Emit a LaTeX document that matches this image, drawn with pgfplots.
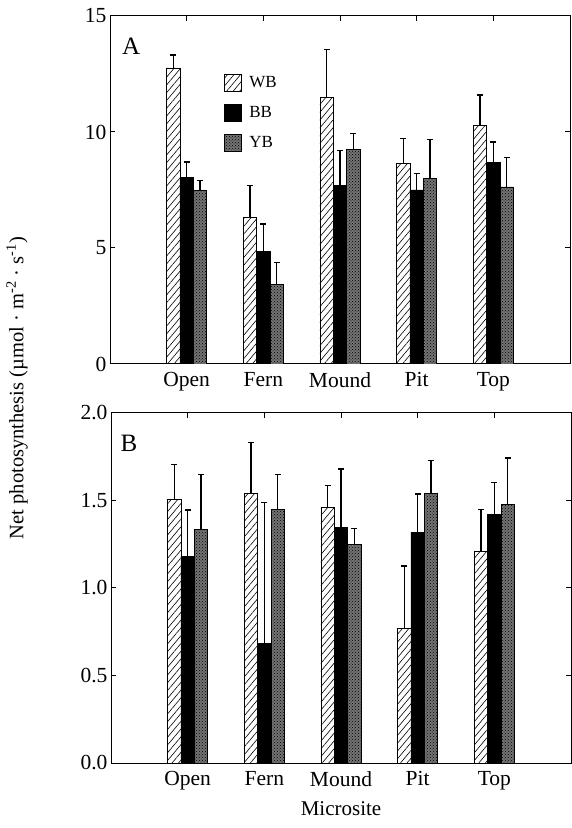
\documentclass[border=0pt]{standalone}
\usepackage{pgfplots}
\pgfplotsset{compat=1.18}
\usepackage{fontspec}
\setmainfont{Liberation Serif}
\usetikzlibrary{patterns,patterns.meta}

\pgfplotsset{
 mybase/.style={
  scale only axis, x=76.667pt,
  xmin=-1, xmax=5, xtick={0,1,2,3,4}, xticklabels={Open,Fern,Mound,Pit,Top},
  ybar, bar width=0.174,
  tick align=inside, tick pos=both, xticklabel pos=lower, yticklabel pos=left,
  major tick length=5pt, minor tick num=0,
  tick style={line width=1pt,black},
  axis line style={line width=1pt},
  ticklabel style={font=\fontsize{21.5}{25}\selectfont},
  xticklabel style={yshift=-5pt},
  /pgf/number format/assume math mode=true,
  error bars/y dir=plus, error bars/y explicit,
  error bars/error mark=-,
  error bars/error bar style={line width=1.1pt, black},
  error bars/error mark options={rotate=90, mark size=3pt, line width=1.4pt, black},
 },
 wb/.style={draw=black, line width=0.9pt, pattern={Lines[angle=50,distance=5pt,line width=0.6pt]}, bar shift=-0.174},
 bb/.style={draw=black, line width=0.9pt, fill=black, bar shift=0},
 yb/.style={draw=black, line width=0.9pt, preaction={fill=black!55}, pattern=crosshatch dots, pattern color=black, bar shift=0.174},
}

\begin{document}
\begin{tikzpicture}
\useasboundingbox (0,0) rectangle (571pt,828pt);

% Panel A
\begin{axis}[mybase, at={(110pt,464pt)}, anchor=south west, height=348pt,
  ymin=0, ymax=15, ytick={0,5,10,15},
  legend style={at={(axis cs:0.45,12.6)}, anchor=north west, draw=none, fill=none,
    font=\fontsize{17}{20}\selectfont, row sep=12pt,
    nodes={inner xsep=7pt}},
  legend cell align=left,
  legend image code/.code={\draw[#1] (0pt,-8.5pt) rectangle (17pt,8.5pt);},
]
\addplot[wb] coordinates {(0,12.76) +- (0,0.56) (1,6.30) +- (0,1.40) (2,11.50) +- (0,2.06) (3,8.66) +- (0,1.07) (4,10.30) +- (0,1.30)};
\addplot[bb] coordinates {(0,8.02) +- (0,0.69) (1,4.83) +- (0,1.20) (2,7.69) +- (0,1.51) (3,7.50) +- (0,0.70) (4,8.70) +- (0,0.87)};
\addplot[yb] coordinates {(0,7.47) +- (0,0.43) (1,3.43) +- (0,0.95) (2,9.24) +- (0,0.69) (3,8.00) +- (0,1.67) (4,7.63) +- (0,1.27)};
\legend{WB,BB,YB}
\node[font=\fontsize{25}{29}\selectfont] at (rel axis cs:0.046,0.914) {A};
\end{axis}

% Panel B
\begin{axis}[mybase, at={(111pt,65pt)}, anchor=south west, height=350pt,
  ymin=0, ymax=2, ytick={0,0.5,1,1.5,2},
  yticklabel style={/pgf/number format/.cd, fixed, fixed zerofill, precision=1},
  xlabel={Microsite},
  xlabel style={font=\fontsize{21}{25}\selectfont, yshift=-4pt},
]
\addplot[wb] coordinates {(0,1.508) +- (0,0.197) (1,1.538) +- (0,0.292) (2,1.460) +- (0,0.124) (3,0.768) +- (0,0.358) (4,1.209) +- (0,0.241)};
\addplot[bb] coordinates {(0,1.180) +- (0,0.266) (1,0.684) +- (0,0.804) (2,1.347) +- (0,0.333) (3,1.318) +- (0,0.220) (4,1.420) +- (0,0.183)};
\addplot[yb] coordinates {(0,1.335) +- (0,0.313) (1,1.446) +- (0,0.202) (2,1.251) +- (0,0.090) (3,1.542) +- (0,0.186) (4,1.475) +- (0,0.268)};
\node[font=\fontsize{25}{29}\selectfont] at (rel axis cs:0.039,0.914) {B};
\end{axis}

\node[rotate=90, font=\fontsize{20.5}{24}\selectfont] at (17pt,440pt)
  {Net photosynthesis (µmol · m\textsuperscript{-2} · s\textsuperscript{-1})};
\end{tikzpicture}
\end{document}
